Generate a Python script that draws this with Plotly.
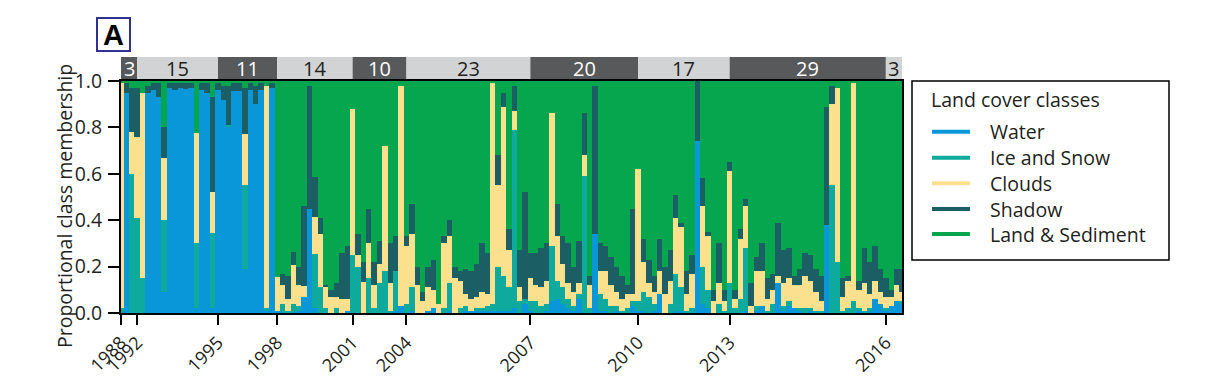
import plotly.graph_objects as go

# ---------------- data ----------------
image_index = list(range(146))

water = [0, 0.95, 0, 0, 0, 0.95, 0.96, 0.93, 0.09, 0.97,
         0.96, 0.97, 0.965, 0.97, 0.02, 0.96, 0.95, 0.02, 0.96, 0.92,
         0.80, 0.955, 0.955, 0.19, 0.96, 0.90, 0.96, 0.01, 0.97, 0.01,
         0.005, 0, 0.005, 0.01, 0.07, 0.45, 0.02, 0, 0, 0,
         0, 0, 0.01, 0, 0, 0, 0, 0, 0, 0,
         0, 0.01, 0.03, 0, 0.01, 0, 0, 0.01, 0.02, 0,
         0, 0.01, 0, 0, 0.01, 0.01, 0.01, 0.01, 0.01, 0.01,
         0.01, 0.01, 0.01, 0.02, 0, 0.04, 0.01, 0, 0, 0.01,
         0.05, 0.06, 0.04, 0.02, 0.01, 0.06, 0, 0, 0.34, 0.01,
         0.01, 0, 0.01, 0, 0, 0.03, 0.01, 0.01, 0, 0.01,
         0.08, 0, 0, 0.01, 0.01, 0, 0, 0.74, 0.04, 0.02,
         0, 0, 0, 0, 0, 0, 0.01, 0, 0.01, 0.03,
         0, 0, 0.13, 0.01, 0.03, 0.02, 0.01, 0, 0.01, 0,
         0, 0.38, 0, 0, 0, 0, 0, 0.01, 0, 0.01,
         0.06, 0.04, 0.01, 0.03, 0.05, 0.04]

ice_snow = [0.02, 0, 0.60, 0.41, 0.15, 0, 0, 0, 0.31, 0,
            0, 0, 0, 0, 0.28, 0, 0, 0.325, 0, 0,
            0.01, 0, 0, 0.36, 0, 0, 0, 0.01, 0, 0,
            0.035, 0.01, 0.035, 0.02, 0, 0, 0.235, 0.11, 0.02, 0,
            0.02, 0, 0, 0.25, 0.20, 0, 0.15, 0.02, 0.13, 0.18,
            0.01, 0.17, 0, 0.04, 0.10, 0, 0, 0, 0, 0,
            0.02, 0.12, 0, 0.02, 0.02, 0, 0.01, 0.01, 0.02, 0.03,
            0.19, 0.15, 0.10, 0.77, 0.05, 0.02, 0.04, 0.05, 0.03, 0.03,
            0.24, 0.08, 0.07, 0.04, 0.02, 0.02, 0.59, 0.02, 0, 0.07,
            0.05, 0.03, 0.02, 0.01, 0.02, 0.02, 0.04, 0.08, 0.07, 0.03,
            0, 0, 0.04, 0.16, 0.10, 0.01, 0.02, 0, 0.16, 0.08,
            0, 0.04, 0.01, 0.13, 0.02, 0.06, 0.27, 0, 0.02, 0,
            0.01, 0.04, 0, 0.02, 0.02, 0, 0.01, 0.02, 0.01, 0.01,
            0.01, 0, 0.55, 0.22, 0.01, 0.02, 0.05, 0.01, 0.01, 0.01,
            0, 0, 0.01, 0, 0, 0.01]

clouds = [0.97, 0, 0.18, 0.35, 0.80, 0, 0, 0, 0.27, 0,
          0, 0, 0, 0, 0.475, 0, 0, 0.175, 0, 0,
          0, 0, 0, 0.22, 0, 0, 0, 0.96, 0, 0.145,
          0.08, 0.05, 0.165, 0.09, 0.045, 0, 0.16, 0.23, 0.09, 0.07,
          0.05, 0.06, 0.05, 0.63, 0.05, 0.135, 0.15, 0.10, 0.08, 0.54,
          0.12, 0, 0.95, 0.25, 0.23, 0.12, 0.05, 0.10, 0.08, 0.04,
          0.28, 0.20, 0.15, 0.12, 0.05, 0.05, 0.05, 0.07, 0.05, 0.95,
          0.35, 0.73, 0.16, 0.08, 0.06, 0, 0.10, 0.07, 0.08, 0.10,
          0.57, 0.19, 0.10, 0.07, 0.06, 0.05, 0.09, 0.10, 0, 0.10,
          0.12, 0.09, 0.06, 0.05, 0.06, 0.03, 0.57, 0.13, 0.06, 0.05,
          0.10, 0.08, 0.10, 0.24, 0.26, 0.07, 0.15, 0, 0.26, 0.23,
          0.05, 0.09, 0.04, 0.48, 0.04, 0.26, 0.18, 0.03, 0.15, 0.15,
          0.05, 0.06, 0.03, 0.10, 0.10, 0.10, 0.10, 0.14, 0.12, 0.08,
          0.04, 0, 0.35, 0.75, 0.06, 0.12, 0.94, 0.08, 0.12, 0.06,
          0.08, 0.05, 0.05, 0.04, 0.07, 0.04]

shadow = [0, 0.04, 0.19, 0.21, 0, 0.03, 0.03, 0.06, 0.13, 0.02,
          0.03, 0.02, 0.025, 0.02, 0, 0.03, 0.04, 0.41, 0.03, 0.06,
          0.17, 0.035, 0.035, 0.20, 0.03, 0.08, 0.03, 0, 0.02, 0,
          0.05, 0.10, 0.06, 0.08, 0.345, 0.53, 0.17, 0.07, 0.01, 0.03,
          0.06, 0.20, 0.23, 0, 0.09, 0.085, 0.15, 0.10, 0.10, 0,
          0.17, 0.15, 0, 0.04, 0.13, 0.08, 0.04, 0.09, 0.13, 0,
          0.03, 0.07, 0.05, 0.04, 0.11, 0.12, 0.14, 0.21, 0.18, 0,
          0.13, 0.06, 0.09, 0.11, 0.16, 0.46, 0.11, 0.14, 0.17, 0.16,
          0, 0.14, 0.12, 0.17, 0.11, 0.18, 0.18, 0.04, 0.64, 0.12,
          0.11, 0.12, 0.11, 0.10, 0.04, 0.37, 0, 0.10, 0.10, 0.07,
          0.14, 0.12, 0.13, 0.10, 0.02, 0.10, 0.08, 0.26, 0.12, 0.02,
          0.05, 0.17, 0.05, 0.04, 0.04, 0.04, 0.03, 0.10, 0.06, 0.12,
          0.09, 0.07, 0.23, 0.14, 0.13, 0.04, 0.07, 0.10, 0.11, 0.10,
          0.11, 0.51, 0.08, 0, 0.08, 0.02, 0, 0.04, 0.15, 0.14,
          0.15, 0.10, 0.08, 0.03, 0.07, 0.10]

land_sediment = [0.01, 0.01, 0.03, 0.03, 0.05, 0.02, 0.01, 0.01, 0.20, 0.01,
                 0.01, 0.01, 0.01, 0.01, 0.225, 0.01, 0.01, 0.07, 0.01, 0.02,
                 0.02, 0.01, 0.01, 0.03, 0.01, 0.02, 0.01, 0.02, 0.01, 0.845,
                 0.83, 0.84, 0.735, 0.80, 0.54, 0.02, 0.415, 0.59, 0.88, 0.90,
                 0.87, 0.74, 0.71, 0.12, 0.66, 0.78, 0.55, 0.78, 0.69, 0.28,
                 0.70, 0.67, 0.02, 0.67, 0.53, 0.80, 0.91, 0.80, 0.77, 0.96,
                 0.67, 0.60, 0.80, 0.82, 0.81, 0.82, 0.79, 0.70, 0.74, 0.01,
                 0.32, 0.05, 0.64, 0.02, 0.73, 0.48, 0.74, 0.74, 0.72, 0.70,
                 0.14, 0.53, 0.67, 0.70, 0.80, 0.69, 0.14, 0.84, 0.02, 0.70,
                 0.71, 0.76, 0.80, 0.84, 0.88, 0.55, 0.38, 0.68, 0.77, 0.84,
                 0.68, 0.80, 0.73, 0.49, 0.61, 0.82, 0.75, 0.0, 0.42, 0.65,
                 0.90, 0.70, 0.90, 0.35, 0.90, 0.64, 0.51, 0.87, 0.76, 0.70,
                 0.85, 0.83, 0.61, 0.73, 0.72, 0.84, 0.81, 0.74, 0.75, 0.81,
                 0.84, 0.11, 0.02, 0.03, 0.85, 0.84, 0.01, 0.86, 0.72, 0.78,
                 0.71, 0.81, 0.85, 0.90, 0.81, 0.81]

class_names = ["Water", "Ice and Snow", "Clouds", "Shadow", "Land & Sediment"]
class_colors = ["#0a97d9", "#0eaa9d", "#fbe08e", "#1b5e63", "#06a64e"]

tick_positions = [0, 3, 18, 29, 43, 53, 76, 96, 113, 142]
tick_years = ["1988", "1992", "1995", "1998", "2001", "2004", "2007", "2010", "2013", "2016"]

period_bounds = [0, 3, 18, 29, 43, 53, 76, 96, 113, 142, 145]
period_counts = ["3", "15", "11", "14", "10", "23", "20", "17", "29", "3"]

# ---------------- layout helpers (pixel -> paper) ----------------
W, H = 1211, 377
L, R, T, B = 121, 902, 81, 313
def px(x):
    return (x - L) / (R - L)
def py(y):
    return (B - y) / (B - T)

FONT = "Open Sans"
TXT = "#231f20"
FS = 19.5
fig = go.Figure()
for name, vals, col in zip(class_names, [water, ice_snow, clouds, shadow, land_sediment], class_colors):
    fig.add_trace(go.Bar(x=image_index, y=vals, name=name, marker_color=col,
                         marker_line_width=0, showlegend=False))

shapes = []
annotations = []
def note(x, y, text, size=FS, color=TXT, xanchor="center", xref="paper", family=FONT, angle=0):
    annotations.append(dict(xref=xref, yref="paper", x=x, y=y, text=text, showarrow=False,
                            xanchor=xanchor, yanchor="middle", textangle=angle,
                            font=dict(family=family, size=size, color=color)))

# period band
for k in range(len(period_counts)):
    dark = (k % 2 == 0)
    shapes.append(dict(type="rect", xref="x", yref="paper",
                       x0=period_bounds[k], x1=period_bounds[k + 1],
                       y0=py(80), y1=py(57), line_width=0,
                       fillcolor="#58595b" if dark else "#d1d3d4", layer="below"))
    note((period_bounds[k] + period_bounds[k + 1]) / 2, py(68.5), period_counts[k], size=20,
         color="white" if dark else TXT, xref="x")

# panel letter
shapes.append(dict(type="rect", xref="paper", yref="paper", x0=px(97), x1=px(130),
                   y0=py(51), y1=py(18), line=dict(color="#2e3192", width=2), fillcolor="white"))
note(px(113.5), py(35), "<b>A</b>", size=29, color="black", family="Liberation Sans")

# y-axis title
note(px(64), py(206), "Proportional class membership", angle=-90)

# legend (drawn)
shapes.append(dict(type="rect", xref="paper", yref="paper", x0=px(912), x1=px(1169),
                   y0=py(260), y1=py(81), line=dict(color="black", width=1.5), fillcolor="white"))
note(px(929), py(99), "Land cover classes", xanchor="left")
entry_y = [131.7, 157.7, 183.3, 209, 234]
for name, col, yy in zip(class_names, class_colors, entry_y):
    shapes.append(dict(type="line", xref="paper", yref="paper", x0=px(932), x1=px(970),
                       y0=py(yy), y1=py(yy), line=dict(color=col, width=4)))
    note(px(988), py(yy), name, xanchor="left")

fig.update_layout(
    width=W, height=H, barmode="stack", bargap=0,
    margin=dict(l=L, r=W - R, t=T, b=H - B, pad=0),
    paper_bgcolor="white", plot_bgcolor="white",
    font=dict(family=FONT, size=FS, color=TXT),
    shapes=shapes, annotations=annotations, showlegend=False,
    xaxis=dict(range=[0, 145], tickvals=tick_positions, ticktext=tick_years,
               tickangle=-45, ticks="outside", ticklen=10, tickwidth=1.5, tickcolor="black",
               ticklabelstandoff=0,
               showline=True, linecolor="black", linewidth=2, mirror=True, automargin=False,
               showgrid=False, zeroline=False, tickfont=dict(size=18, color=TXT)),
    yaxis=dict(range=[0, 1], tickvals=[0, 0.2, 0.4, 0.6, 0.8, 1.0],
               ticktext=["0.0", "0.2", "0.4", "0.6", "0.8", "1.0"],
               ticks="outside", ticklen=11, tickwidth=1.5, tickcolor="black",
               ticklabelstandoff=2, automargin=False,
               showline=True, linecolor="black", linewidth=2, mirror=True,
               showgrid=False, zeroline=False, tickfont=dict(size=FS, color=TXT)),
)

fig.write_html("out.html")
